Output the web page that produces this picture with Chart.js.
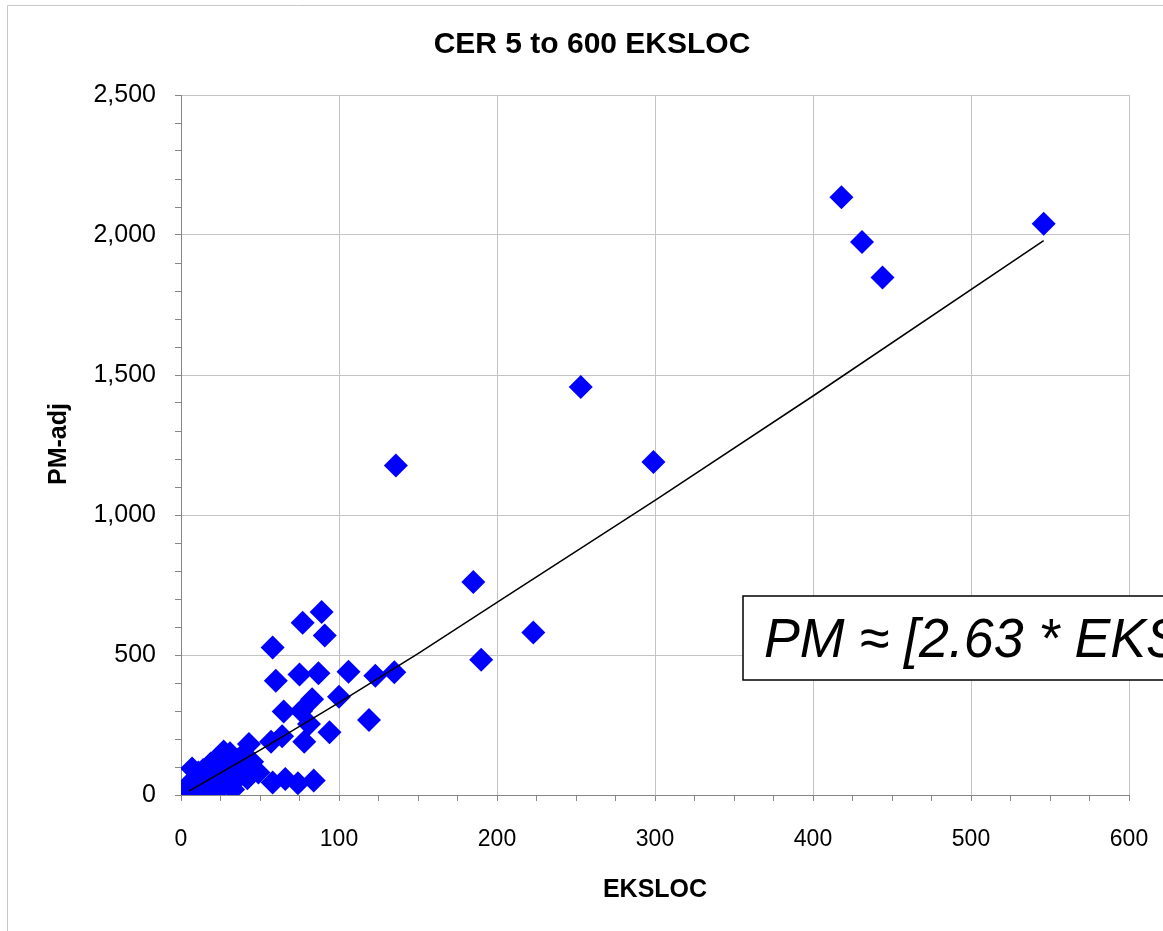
<!DOCTYPE html>
<html>
<head>
<meta charset="utf-8">
<script src="https://cdn.jsdelivr.net/npm/chart.js@4.4.1/dist/chart.umd.min.js"></script>
<style>
  html, body { margin: 0; padding: 0; background: #fff; }
  #wrap { width: 1163px; height: 931px; }
</style>
</head>
<body>
<div id="wrap"><canvas id="cer" width="1163" height="931"></canvas></div>
<script>
var ekslocValues = [
  546, 418, 431, 444, 253, 299, 136, 185, 223, 190,
  89, 77, 91, 58, 60, 75, 87, 106, 123, 135,
  83, 100, 65, 76, 81, 119, 94, 78, 64, 57,
  43, 58, 66, 74, 84, 49, 44,
  5, 5, 6, 7, 7, 8, 9, 10, 11, 12,
  13, 14, 15, 16, 17, 18, 19, 20, 21, 22,
  23, 24, 25, 26, 27, 28, 29, 31, 32, 34,
  36, 37, 38, 40, 42, 45, 33, 20, 12, 9
];
var pmAdjValues = [
  2040, 2135, 1975, 1848, 1457, 1189, 1177, 761, 580, 483,
  654, 615, 570, 527, 408, 430, 435, 440, 426, 438,
  342, 351, 298, 300, 254, 268, 224, 190, 210, 190,
  182, 45, 57, 42, 52, 80, 114,
  10, 25, 45, 95, 5, 30, 60, 15, 80, 40,
  8, 89, 55, 25, 100, 70, 113, 40, 10, 85,
  131, 60, 100, 30, 155, 115, 75, 149, 54, 95,
  125, 66, 137, 90, 60, 119, 20, 20, 55, 35
];

// fitted trend line, read at a few points along it
var trendX = [5, 50, 100, 150, 200, 300, 400, 546];
var trendY = [14, 160, 330, 505, 688, 1052, 1425, 1980];

var xTickMajor = 100, xTickStep = 25;
var yTickMajor = 500, yTickStep = 100;

var titleText = 'CER 5 to 600 EKSLOC';
var xTitle = 'EKSLOC';
var yTitle = 'PM-adj';
var equationText = 'PM \u2248 [2.63 * EKSLOC]';

function pairs(xs, ys) {
  var out = [];
  for (var i = 0; i < xs.length; i++) out.push({ x: xs[i], y: ys[i] });
  return out;
}

var decorations = {
  id: 'decorations',
  beforeDraw: function (chart) {
    var ctx = chart.ctx;
    ctx.save();
    ctx.fillStyle = '#fff';
    ctx.fillRect(0, 0, chart.width, chart.height);
    // outer chart frame (cut off at the right / bottom)
    ctx.strokeStyle = '#c8c8c8';
    ctx.lineWidth = 1;
    ctx.beginPath();
    ctx.moveTo(7.5, chart.height + 5);
    ctx.lineTo(7.5, 5.5);
    ctx.lineTo(chart.width + 5, 5.5);
    ctx.stroke();
    ctx.restore();
  },
  afterDraw: function (chart) {
    var ctx = chart.ctx;
    var area = chart.chartArea;
    ctx.save();
    ctx.fillStyle = '#000';
    ctx.textAlign = 'center';
    ctx.textBaseline = 'alphabetic';
    ctx.font = 'bold 30px "Liberation Sans", Arial, sans-serif';
    ctx.fillText(titleText, 592, 53);

    ctx.font = 'bold 25px "Liberation Sans", Arial, sans-serif';
    ctx.fillText(xTitle, (area.left + area.right) / 2, 897);

    ctx.translate(66, 444);
    ctx.rotate(-Math.PI / 2);
    ctx.fillText(yTitle, 0, 0);
    ctx.restore();

    // equation box
    ctx.save();
    ctx.fillStyle = '#fff';
    ctx.fillRect(743, 596, 500, 84);
    ctx.strokeStyle = '#000';
    ctx.lineWidth = 1.5;
    ctx.strokeRect(743, 596, 500, 84);
    ctx.fillStyle = '#000';
    ctx.textAlign = 'left';
    ctx.translate(764, 657);
    ctx.scale(0.96, 1);
    ctx.font = 'italic 56px "Liberation Sans", Arial, sans-serif';
    ctx.fillText(equationText, 0, 0);
    ctx.restore();
  }
};

new Chart(document.getElementById('cer'), {
  type: 'scatter',
  data: {
    datasets: [{
      label: 'Trend',
      data: pairs(trendX, trendY),
      showLine: true,
      borderColor: '#000',
      borderWidth: 1.5,
      pointRadius: 0,
      fill: false,
      order: 0
    }, {
      label: 'PM-adj',
      data: pairs(ekslocValues, pmAdjValues),
      pointStyle: 'rectRot',
      pointRadius: 12,
      pointHoverRadius: 12,
      backgroundColor: '#0000ff',
      borderColor: '#0000ff',
      borderWidth: 0,
      order: 1
    }]
  },
  options: {
    responsive: false,
    animation: false,
    devicePixelRatio: 1,
    layout: { padding: { top: 95, right: 34, left: 0, bottom: 0 } },
    plugins: {
      legend: { display: false },
      title: { display: false },
      tooltip: { enabled: false }
    },
    scales: {
      x: {
        type: 'linear',
        min: 0,
        max: 600,
        afterFit: function (scale) {
          scale.height = 136;
          scale.paddingLeft = 0;
          scale.paddingRight = 0;
        },
        border: { color: '#868686', width: 1 },
        grid: {
          color: function (c) { return c.tick && c.tick.value % xTickMajor === 0 ? '#c4c4c4' : 'rgba(0,0,0,0)'; },
          tickColor: '#868686',
          tickLength: 6
        },
        ticks: {
          stepSize: xTickStep,
          autoSkip: false,
          maxRotation: 0,
          minRotation: 0,
          padding: 25,
          color: '#000',
          font: { family: '"Liberation Sans", Arial, sans-serif', size: 23 },
          callback: function (v) { return v % xTickMajor === 0 ? String(v) : ''; }
        }
      },
      y: {
        type: 'linear',
        min: 0,
        max: 2500,
        afterFit: function (scale) { scale.width = 181; },
        border: { color: '#868686', width: 1 },
        grid: {
          color: function (c) { return c.tick && c.tick.value % yTickMajor === 0 ? '#c4c4c4' : 'rgba(0,0,0,0)'; },
          tickColor: '#868686',
          tickLength: 6
        },
        ticks: {
          stepSize: yTickStep,
          autoSkip: false,
          padding: 19,
          color: '#000',
          font: { family: '"Liberation Sans", Arial, sans-serif', size: 25 },
          callback: function (v) { return v % yTickMajor === 0 ? v.toLocaleString('en-US') : ''; }
        }
      }
    }
  },
  plugins: [decorations]
});
</script>
</body>
</html>
